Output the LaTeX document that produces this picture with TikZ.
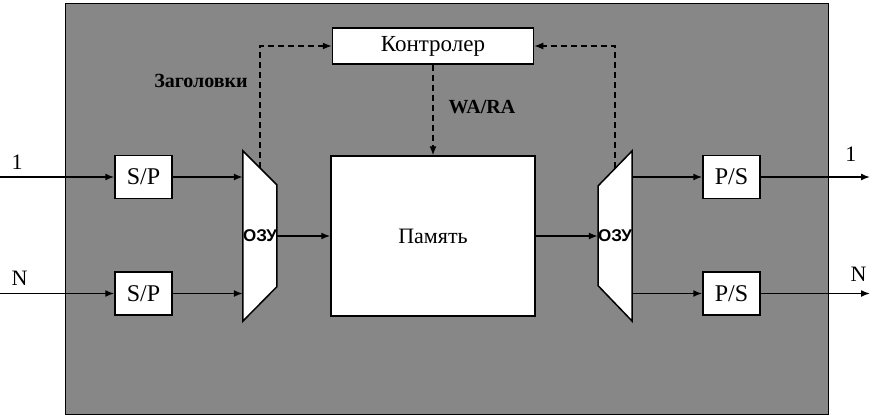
\documentclass[tikz,border=0pt]{standalone}
\usepackage{fontspec}
\setmainfont{Liberation Serif}
\setsansfont{Liberation Sans}
\usetikzlibrary{arrows.meta, positioning, calc}
\tikzset{
    % Default text
    every node/.style={font=\fontsize{22}{24}\selectfont},
    % Gray panel
    panel/.style={
        draw=black,
        fill=black!47,
        line width=0.8pt
    },
    % Converter box (S/P, P/S)
    conv/.style={
        rectangle,
        draw=black,
        fill=white,
        line width=1.5pt,
        minimum width=57pt,
        minimum height=43pt,
        inner sep=0pt,
        font=\fontsize{24}{26}\selectfont
    },
    % Controller box
    ctrlbox/.style={
        rectangle,
        draw=black,
        fill=white,
        line width=1.5pt,
        minimum width=201pt,
        minimum height=36pt,
        inner sep=0pt,
        font=\fontsize{23}{25}\selectfont
    },
    % Memory box
    membox/.style={
        rectangle,
        draw=black,
        fill=white,
        line width=1.5pt,
        minimum width=204pt,
        minimum height=160pt,
        inner sep=0pt
    },
    % Multiplexer frame (shape drawn separately)
    muxbox/.style={
        rectangle,
        minimum width=34pt,
        minimum height=170pt,
        inner sep=0pt
    },
    muxline/.style={
        draw=black,
        fill=white,
        line width=1.5pt,
        line join=miter
    },
    % Mux text
    muxtext/.style={
        inner sep=0pt,
        font=\sffamily\bfseries\fontsize{17}{19}\selectfont
    },
    % Bold labels
    lbl/.style={
        inner sep=0pt,
        font=\bfseries\fontsize{20}{22}\selectfont
    },
    % Arrow style
    arrow/.style={
        -{Latex[length=9pt,width=7pt]},
        line width=1.5pt,
        color=black
    },
    % Control line
    ctl/.style={
        -{Latex[length=9pt,width=7pt]},
        line width=1.3pt,
        dash pattern=on 6pt off 4pt,
        color=black
    }
}
\begin{document}
\begin{tikzpicture}[x=1pt, y=-1pt]
    \useasboundingbox (0,0) rectangle (877,417);
    \draw[panel] (65,3) rectangle (828,414);

    \node (ctrl) [ctrlbox] at (433,46) {Контролер};
    \node (mem) [membox] at (433,236) {Память};
    \node (spA) [conv] at (143.5,177) {S/P};
    \node (spB) [conv, below=72pt of spA] {S/P};
    \node (psA) [conv] at (731.5,177) {P/S};
    \node (psB) [conv, below=72pt of psA] {P/S};
    \node (muxL) [muxbox] at (260,236) {};
    \node (muxR) [muxbox] at (615,236) {};

    % Control lines
    \draw [ctl] ($(muxL.north)+(0,17)$) |- (ctrl.west);
    \draw [ctl] ($(muxR.north)+(0,17)$) |- (ctrl.east);
    \draw [ctl] (ctrl.south) -- (mem.north);
    \node (hdr) [lbl] at (201,81) {Заголовки};
    \node (wara) [lbl] at (482,107) {WA/RA};

    % Multiplexers
    \draw [muxline] (muxL.north west) -- ++(34,34) -- ++(0,102) -- (muxL.south west) -- cycle;
    \draw [muxline] (muxR.north east) -- ++(-34,35) -- ++(0,100) -- (muxR.south east) -- cycle;
    \node [muxtext] at (muxL) {ОЗУ};
    \node [muxtext] at (muxR) {ОЗУ};

    % Inputs
    \coordinate (inA) at (0,177);
    \coordinate (inB) at (inA |- spB);
    \node (lA) [above right=4pt and 8pt of inA, anchor=south west] {1};
    \node (lB) [above right=4pt and 8pt of inB, anchor=south west] {N};
    \draw [arrow] (inA) -- (spA);
    \draw [arrow] (inB) -- (spB);
    \draw [arrow] (spA) -- (spA -| muxL.west);
    \draw [arrow] (spB) -- (spB -| muxL.west);
    \draw [arrow] (muxL.east) -- (muxL.east -| mem.west);
    \draw [arrow] (mem.east |- muxR) -- (muxR.west);

    % Outputs
    \draw [arrow] (psA -| muxR.east) -- (psA);
    \draw [arrow] (psB -| muxR.east) -- (psB);
    \coordinate (outA) at (870,177);
    \coordinate (outB) at (outA |- psB);
    \draw [arrow] (psA) -- (outA);
    \draw [arrow] (psB) -- (outB);
    \node (rA) [above left=12pt and 10pt of outA, anchor=south east] {1};
    \node (rB) [above left=8pt and 0pt of outB, anchor=south east] {N};
\end{tikzpicture}
\end{document}
